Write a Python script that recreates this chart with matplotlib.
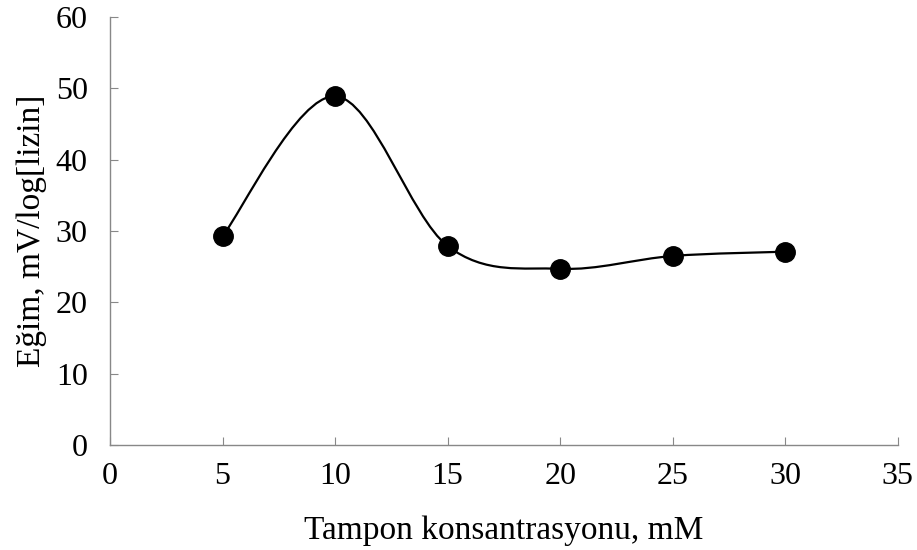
import numpy as np
import matplotlib
matplotlib.use("Agg")
import matplotlib.pyplot as plt
from matplotlib.path import Path
from matplotlib.patches import PathPatch

x_vals = [5, 10, 15, 20, 25, 30]
y_vals = [29.3, 48.9, 27.9, 24.7, 26.5, 27.1]
x_ticks = [0, 5, 10, 15, 20, 25, 30, 35]
y_ticks = [0, 10, 20, 30, 40, 50, 60]

plt.rcParams['font.family'] = ['Liberation Serif', 'DejaVu Serif']

fig = plt.figure(figsize=(9.17, 5.5), dpi=100)
ax = fig.add_axes([0.12, 0.191, 0.859, 0.778])

# Excel-like smoothed line (cubic Bezier, Catmull-Rom control points)
pts = np.column_stack([x_vals, y_vals]).astype(float)
n = len(pts)
verts = [tuple(pts[0])]
codes = [Path.MOVETO]
for i in range(n - 1):
    p0 = pts[i - 1] if i > 0 else pts[i]
    p1 = pts[i]
    p2 = pts[i + 1]
    p3 = pts[i + 2] if i + 2 < n else pts[i + 1]
    c1 = p1 + (p2 - p0) / 6.0
    c2 = p2 - (p3 - p1) / 6.0
    verts += [tuple(c1), tuple(c2), tuple(p2)]
    codes += [Path.CURVE4] * 3
patch = PathPatch(Path(verts, codes), facecolor='none', edgecolor='black', lw=1.6, zorder=2)
ax.add_patch(patch)
ax.plot(x_vals, y_vals, linestyle='none', marker='o', markersize=14,
        color='black', zorder=3)

ax.set_xlim(0, 35)
ax.set_ylim(0, 60)
ax.set_xticks(x_ticks)
ax.set_yticks(y_ticks)
for s in ['top', 'right']:
    ax.spines[s].set_visible(False)
for s in ['left', 'bottom']:
    ax.spines[s].set_color('#888888')
    ax.spines[s].set_linewidth(1.0)
ax.tick_params(direction='in', length=6, color='#888888', labelsize=23,
               labelcolor='black')
ax.tick_params(axis='y', pad=16)
ax.tick_params(axis='x', pad=12)
ax.set_xlabel('Tampon konsantrasyonu, mM', fontsize=24, labelpad=18)
ax.set_ylabel('Eğim, mV/log[lizin]', fontsize=24, labelpad=6)

fig.savefig('out.png', dpi=100)
